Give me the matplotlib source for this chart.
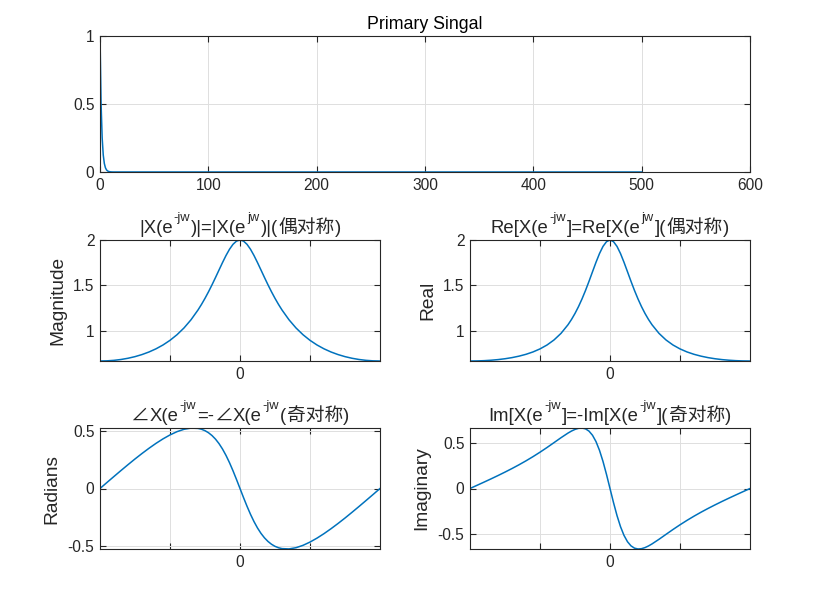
import numpy as np
import matplotlib
matplotlib.use('Agg')
import matplotlib.pyplot as plt

plt.rcParams['font.family'] = ['Liberation Sans', 'DejaVu Sans', 'Noto Sans CJK SC']

# time-domain signal (only the first samples are non-zero, then flat to n=500)
n = [0, 1, 2, 3, 4, 5, 6, 7, 8, 9, 10, 11, 12, 500]
x_n = [1.0, 0.5, 0.25, 0.125, 0.0625, 0.0313, 0.0156, 0.0078, 0.0039, 0.002, 0.001, 0.0005, 0.0002, 0.0]

# frequency samples in units of pi (denser near 0 where the curves bend)
w_over_pi = [-1.0, -0.95, -0.9, -0.85, -0.8, -0.75, -0.7, -0.65, -0.6, -0.55, -0.5,
             -0.45, -0.4, -0.35, -0.3, -0.275, -0.25, -0.225, -0.2, -0.175, -0.15,
             -0.125, -0.1, -0.075, -0.05, -0.025, 0.0,
             0.025, 0.05, 0.075, 0.1, 0.125, 0.15, 0.175, 0.2, 0.225, 0.25, 0.275,
             0.3, 0.35, 0.4, 0.45, 0.5, 0.55, 0.6, 0.65, 0.7, 0.75, 0.8, 0.85, 0.9, 0.95, 1.0]

magnitude = [0.6667, 0.6685, 0.6740, 0.6834, 0.6969, 0.7148, 0.7377, 0.7661, 0.8009, 0.8432,
             0.8944, 0.9563, 1.0309, 1.1208, 1.2289, 1.2904, 1.3572, 1.4292, 1.5059, 1.5864,
             1.6690, 1.7511, 1.8290, 1.8979, 1.9525, 1.9878, 2.0,
             1.9878, 1.9525, 1.8979, 1.8290, 1.7511, 1.6690, 1.5864, 1.5059, 1.4292, 1.3572,
             1.2904, 1.2289, 1.1208, 1.0309, 0.9563, 0.8944, 0.8432, 0.8009, 0.7661, 0.7377,
             0.7148, 0.6969, 0.6834, 0.6740, 0.6685, 0.6667]

real_part = [0.6667, 0.6676, 0.6704, 0.6752, 0.6821, 0.6916, 0.7040, 0.7201, 0.7405, 0.7666,
             0.8000, 0.8429, 0.8985, 0.9711, 1.0663, 1.1244, 1.1907, 1.2659, 1.3504, 1.4437,
             1.5446, 1.6499, 1.7544, 1.8507, 1.9296, 1.9817, 2.0,
             1.9817, 1.9296, 1.8507, 1.7544, 1.6499, 1.5446, 1.4437, 1.3504, 1.2659, 1.1907,
             1.1244, 1.0663, 0.9711, 0.8985, 0.8429, 0.8000, 0.7666, 0.7405, 0.7201, 0.7040,
             0.6916, 0.6821, 0.6752, 0.6704, 0.6676, 0.6667]

phase = [0.0, 0.0524, 0.1043, 0.1557, 0.2062, 0.2556, 0.3030, 0.3482, 0.3907, 0.4295,
         0.4636, 0.4919, 0.5124, 0.5229, 0.5202, 0.5128, 0.5005, 0.4826, 0.4584, 0.4273,
         0.3886, 0.3417, 0.2865, 0.2234, 0.1533, 0.0781, 0.0,
         -0.0781, -0.1533, -0.2234, -0.2865, -0.3417, -0.3886, -0.4273, -0.4584, -0.4826, -0.5005,
         -0.5128, -0.5202, -0.5229, -0.5124, -0.4919, -0.4636, -0.4295, -0.3907, -0.3482, -0.3030,
         -0.2556, -0.2062, -0.1557, -0.1043, -0.0524, 0.0]

imag_part = [0.0, 0.0350, 0.0702, 0.1060, 0.1427, 0.1807, 0.2201, 0.2614, 0.3050, 0.3511,
             0.4000, 0.4516, 0.5054, 0.5597, 0.6108, 0.6331, 0.6512, 0.6632, 0.6664, 0.6575,
             0.6323, 0.5867, 0.5169, 0.4204, 0.2982, 0.1550, 0.0,
             -0.1550, -0.2982, -0.4204, -0.5169, -0.5867, -0.6323, -0.6575, -0.6664, -0.6632, -0.6512,
             -0.6331, -0.6108, -0.5597, -0.5054, -0.4516, -0.4000, -0.3511, -0.3050, -0.2614, -0.2201,
             -0.1807, -0.1427, -0.1060, -0.0702, -0.0350, 0.0]

# titles as pieces: n = normal, s = superscript, c = CJK / symbol font
title_mag = [('|X(e', 'n'), ('-jw', 's'), (')|=|X(e', 'n'), ('jw', 's'), (')|(', 'n'), ('偶对称', 'c'), (')', 'n')]
title_re = [('Re[X(e', 'n'), ('-jw', 's'), (']=Re[X(e', 'n'), ('jw', 's'), ('](', 'n'), ('偶对称', 'c'), (')', 'n')]
title_ph = [('∠', 'c'), ('X(e', 'n'), ('-jw', 's'), ('=-', 'n'), ('∠', 'c'), ('X(e', 'n'), ('-jw', 's'),
            ('(', 'n'), ('奇对称', 'c'), (')', 'n')]
title_im = [('Im[X(e', 'n'), ('-jw', 's'), (']=-Im[X(e', 'n'), ('-jw', 's'), ('](', 'n'), ('奇对称', 'c'), (')', 'n')]

w = np.array(w_over_pi) * np.pi

LINE = '#0072BD'
DARK = '#262626'
W, H = 814, 603

fig = plt.figure(figsize=(8.14, 6.03), dpi=100)
fig.patch.set_facecolor('white')
renderer = fig.canvas.get_renderer()


def style(ax):
    for s in ax.spines.values():
        s.set_color(DARK)
        s.set_linewidth(0.8)
    ax.tick_params(direction='in', top=True, right=True, length=4, width=0.8,
                   colors=DARK, labelsize=11.2, pad=4)
    ax.grid(True, color='#dedede', linewidth=0.7)
    ax.set_axisbelow(True)


def draw_title(ax, pieces):
    texts = []
    for s, kind in pieces:
        if kind == 's':
            t = fig.text(0, 0, s, fontsize=9.3, color=DARK, va='baseline', ha='left')
        elif kind == 'c':
            t = fig.text(0, 0, s, fontsize=13.5, color=DARK, va='baseline', ha='left',
                         family=['Noto Sans CJK SC', 'DejaVu Sans'])
        else:
            t = fig.text(0, 0, s, fontsize=13.3, color=DARK, va='baseline', ha='left')
        texts.append((t, kind))
    widths = [t.get_window_extent(renderer=renderer).width for t, _ in texts]
    # CJK glyphs carry their own side bearings, so no extra gap around them
    gaps = []
    for i, (_, kind) in enumerate(texts):
        nxt = texts[i + 1][1] if i + 1 < len(texts) else None
        gaps.append(0.2 if (kind == 'c' or nxt == 'c') else 1.0)
    gaps[-1] = 0
    total = sum(widths) + sum(gaps)
    pos = ax.get_position()
    x = (pos.x0 + pos.x1) / 2 * W - total / 2
    base = pos.y1 * H + 7
    for (t, kind), wd, g in zip(texts, widths, gaps):
        y = base + (12.5 if kind == 's' else 0)
        t.set_position((x / W, y / H))
        x += wd + g


# top: primary signal
ax0 = fig.add_axes([100 / W, 1 - 172 / H, 650 / W, 136 / H])
ax0.plot(n, x_n, color=LINE, linewidth=1.1)
ax0.set_xlim(0, 600)
ax0.set_ylim(0, 1)
ax0.set_xticks([0, 100, 200, 300, 400, 500, 600])
ax0.set_yticks([0, 0.5, 1])
ax0.set_yticklabels(['0', '0.5', '1'])
ax0.set_title('Primary Singal', fontsize=12.8, color='black', pad=5)
style(ax0)

panels = [
    ([100, 240], magnitude, 'Magnitude', title_mag,
     (0.6667, 2.0), [1, 1.5, 2], ['1', '1.5', '2']),
    ([470, 240], real_part, 'Real', title_re,
     (0.6667, 2.0), [1, 1.5, 2], ['1', '1.5', '2']),
    ([100, 428], phase, 'Radians', title_ph,
     (-0.5236, 0.5236), [-0.5, 0, 0.5], ['-0.5', '0', '0.5']),
    ([470, 428], imag_part, 'Imaginary', title_im,
     (-0.6667, 0.6667), [-0.5, 0, 0.5], ['-0.5', '0', '0.5']),
]

for (left, top), vals, ylab, title, ylim, yt, ytl in panels:
    ax = fig.add_axes([left / W, 1 - (top + 121) / H, 280 / W, 121 / H])
    ax.plot(w, vals, color=LINE, linewidth=1.1)
    ax.set_xlim(-np.pi, np.pi)
    ax.set_ylim(*ylim)
    ax.set_xticks([-np.pi / 2, 0, np.pi / 2])
    ax.set_xticklabels(['', '0', ''])
    ax.set_yticks(yt)
    ax.set_yticklabels(ytl)
    ax.set_ylabel(ylab, fontsize=13.8, color=DARK, labelpad=5)
    style(ax)
    draw_title(ax, title)

fig.savefig('out.png', dpi=100, facecolor='white')
